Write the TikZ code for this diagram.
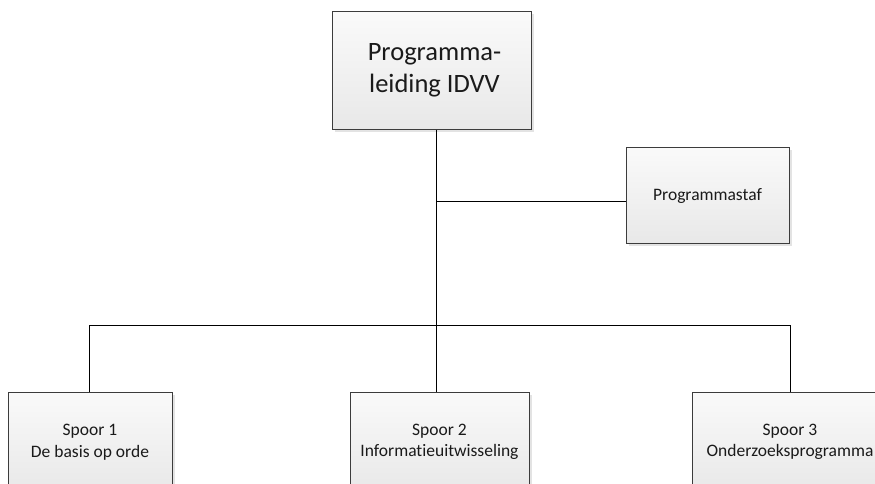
\documentclass[tikz,border=0pt]{standalone}
\usepackage{fontspec}
\setmainfont{Carlito}[Ligatures=NoCommon]
\usetikzlibrary{shadows}
\definecolor{boxline}{HTML}{3C3C3C}
\definecolor{txt}{HTML}{1A1A1A}
\begin{document}
\begin{tikzpicture}[x=1pt,y=-1pt,
  orgbox/.style={draw=boxline, line width=0.9pt, rectangle, align=center,
    top color=white!98!black, bottom color=white!91!black, text=txt,
    drop shadow={shadow xshift=2.5pt, shadow yshift=-2.5pt, fill=black!18, opacity=0.6},
    inner sep=0pt},
  bigtxt/.style={font=\fontsize{26.5}{32}\selectfont},
  smalltxt/.style={font=\fontsize{17.5}{21.5}\selectfont},
  conn/.style={draw=black, line width=1pt}]
\useasboundingbox (0,0) rectangle (875,483);
\clip (0,0) rectangle (875,483);
\coordinate (trunk) at (436,0);
\coordinate (busL) at (89,325);
\coordinate (busR) at (790,325);
\coordinate (staffjoin) at (436,201);
\node[orgbox, bigtxt, minimum width=199pt, minimum height=118pt] (top) at (431.5,70.5) {\hspace{6pt}Programma-\\\hspace{6pt}leiding IDVV};
\node[orgbox, smalltxt, minimum width=163pt, minimum height=96pt] (staf) at (707.5,195.5) {Programmastaf};
\node[orgbox, smalltxt, minimum width=164pt, minimum height=100pt] (s1) at (90,442) {Spoor 1\\De basis op orde};
\node[orgbox, smalltxt, minimum width=179pt, minimum height=100pt] (s2) at (439.5,442) {Spoor 2\\Informatieuitwisseling};
\node[orgbox, smalltxt, minimum width=196pt, minimum height=100pt] (s3) at (790,442) {Spoor 3\\Onderzoeksprogramma};
\draw[conn] (top.south -| trunk) -- (busL -| trunk);
\draw[conn] (staffjoin) -- (staf.west |- staffjoin);
\draw[conn] (busL) -- (busR);
\draw[conn] (busL) -- (s1.north -| busL);
\draw[conn] (busL -| trunk) -- (s2.north -| trunk);
\draw[conn] (busR) -- (s3.north -| busR);
\end{tikzpicture}
\end{document}
